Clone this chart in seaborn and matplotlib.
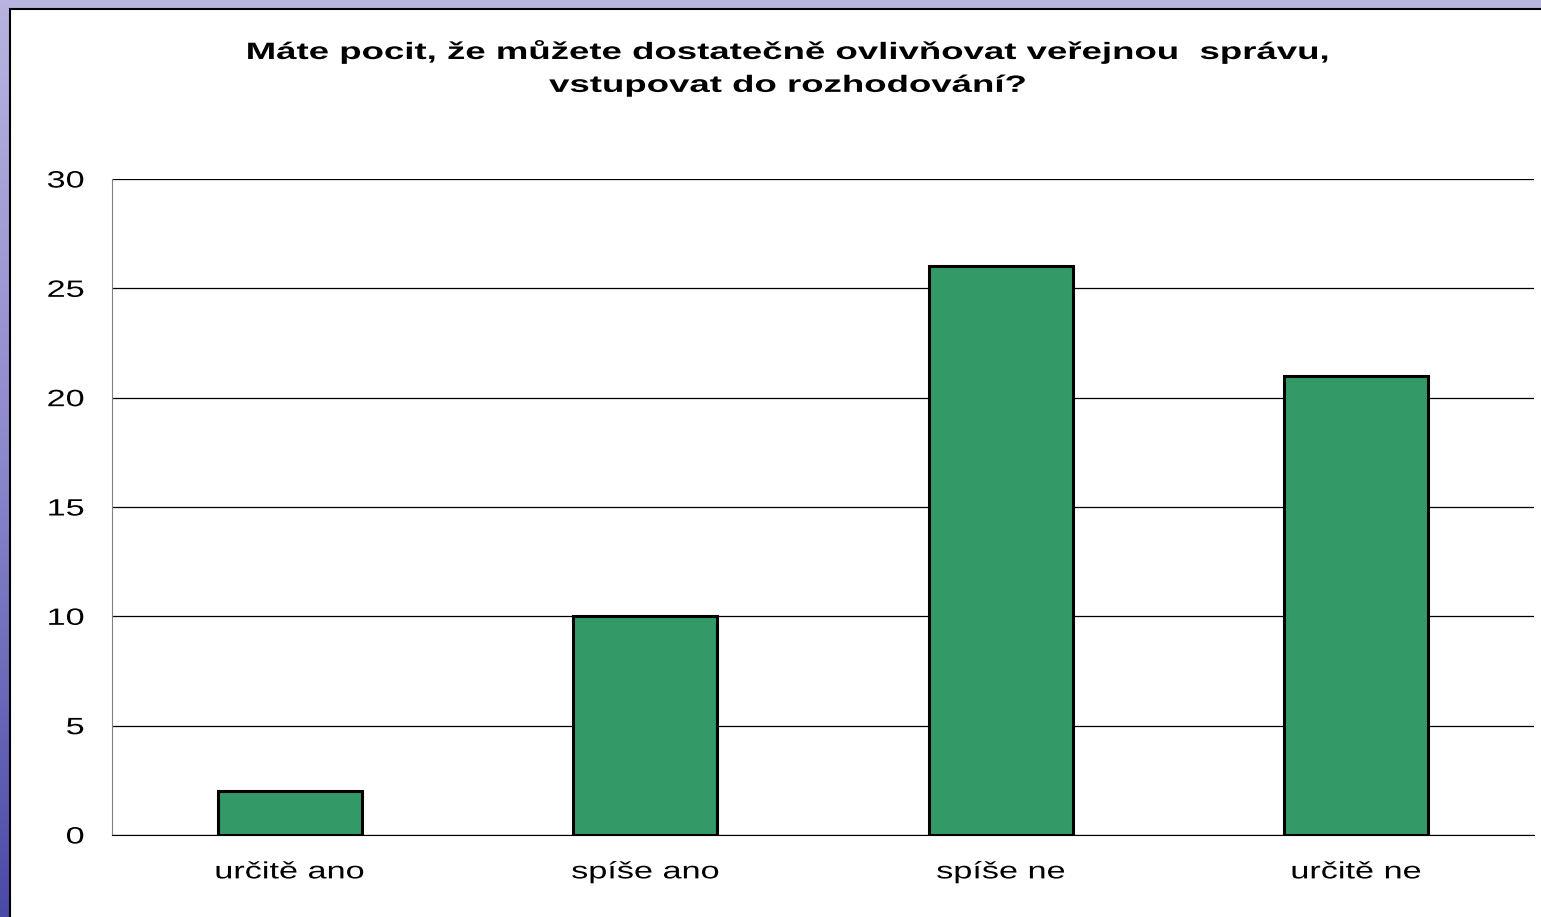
import numpy as np
import pandas as pd
import matplotlib
matplotlib.use("Agg")
import matplotlib.pyplot as plt
from matplotlib.patches import Rectangle
from matplotlib.colors import LinearSegmentedColormap
from matplotlib.patheffects import AbstractPathEffect
from matplotlib.transforms import Affine2D
import seaborn as sns

# --- Data ---
categories = ["určitě ano", "spíše ano", "spíše ne", "určitě ne"]
counts = [2, 10, 26, 21]
y_ticks = [0, 5, 10, 15, 20, 25, 30]
title = "Máte pocit, že můžete dostatečně ovlivňovat veřejnou  správu,\nvstupovat do rozhodování?"

df = pd.DataFrame({"odpoved": categories, "pocet": counts})


class Stretch(AbstractPathEffect):
    """Widen glyphs horizontally (the original slide was stretched)."""

    def __init__(self, sx, anchor="center"):
        super().__init__()
        self.sx = sx
        self.anchor = anchor

    def draw_path(self, renderer, gc, tpath, affine, rgbFace=None):
        ext = tpath.get_extents()
        if self.anchor == "right":
            cx = ext.x1
        elif self.anchor == "left":
            cx = ext.x0
        else:
            cx = (ext.x0 + ext.x1) / 2
        tr = Affine2D().translate(-cx, 0).scale(self.sx, 1).translate(cx, 0) + affine
        renderer.draw_path(gc, tpath, tr, rgbFace)


sns.set_style("white")
plt.rcParams["font.family"] = ["Liberation Sans", "DejaVu Sans"]
plt.rcParams["text.color"] = "black"

W, H = 1541, 917
fig = plt.figure(figsize=(W / 100, H / 100), dpi=100)

# slide background: bluish gradient behind a white chart panel
bg = fig.add_axes([0, 0, 1, 1], zorder=-10)
cmap = LinearSegmentedColormap.from_list("slide", ["#b8b4e0", "#8c88cc", "#4a4aa8"])
bg.imshow(np.linspace(0, 1, 256).reshape(-1, 1), aspect="auto", cmap=cmap,
          extent=[0, 1, 0, 1], origin="upper")
bg.add_patch(Rectangle((10 / W, -0.01), 1.0, (H - 9) / H + 0.01,
                       facecolor="white", edgecolor="black", linewidth=1.5,
                       transform=bg.transAxes))
bg.set_axis_off()

ax = fig.add_axes([112 / W, 1 - 835 / H, (1534 - 112) / W, (835 - 179) / H])
sns.barplot(data=df, x="odpoved", y="pocet", color="#339966", width=0.405,
            edgecolor="black", linewidth=2.2, saturation=1, ax=ax)

ax.set_xlim(-0.5, len(categories) - 0.5)
ax.set_ylim(0, 30)
ax.set_yticks(y_ticks)
ax.set_xticks(np.arange(-0.5, len(categories), 1.0), minor=True)
ax.tick_params(axis="x", which="major", length=0, pad=19, labelsize=17,
               labelcolor="black")
ax.tick_params(axis="x", which="minor", length=8, width=1, color="#555555")
ax.tick_params(axis="y", length=8, width=1, color="#555555", labelsize=17,
               labelcolor="black", pad=12)
ax.yaxis.grid(True, color="black", linewidth=0.9)
ax.set_axisbelow(True)
ax.set_xlabel("")
ax.set_ylabel("")
for s in ["top", "right"]:
    ax.spines[s].set_visible(False)
ax.spines["left"].set_color("#808080")
ax.spines["bottom"].set_color("black")
ax.patch.set_alpha(0)

for lbl in ax.get_xticklabels():
    lbl.set_path_effects([Stretch(1.45, "center")])
for lbl in ax.get_yticklabels():
    lbl.set_path_effects([Stretch(1.45, "right")])

fig.text(788 / W, 1 - 68 / H, title, ha="center", va="center",
         fontsize=17, fontweight="bold", linespacing=1.55,
         path_effects=[Stretch(1.55, "center")])

fig.savefig("out.png", dpi=100)
